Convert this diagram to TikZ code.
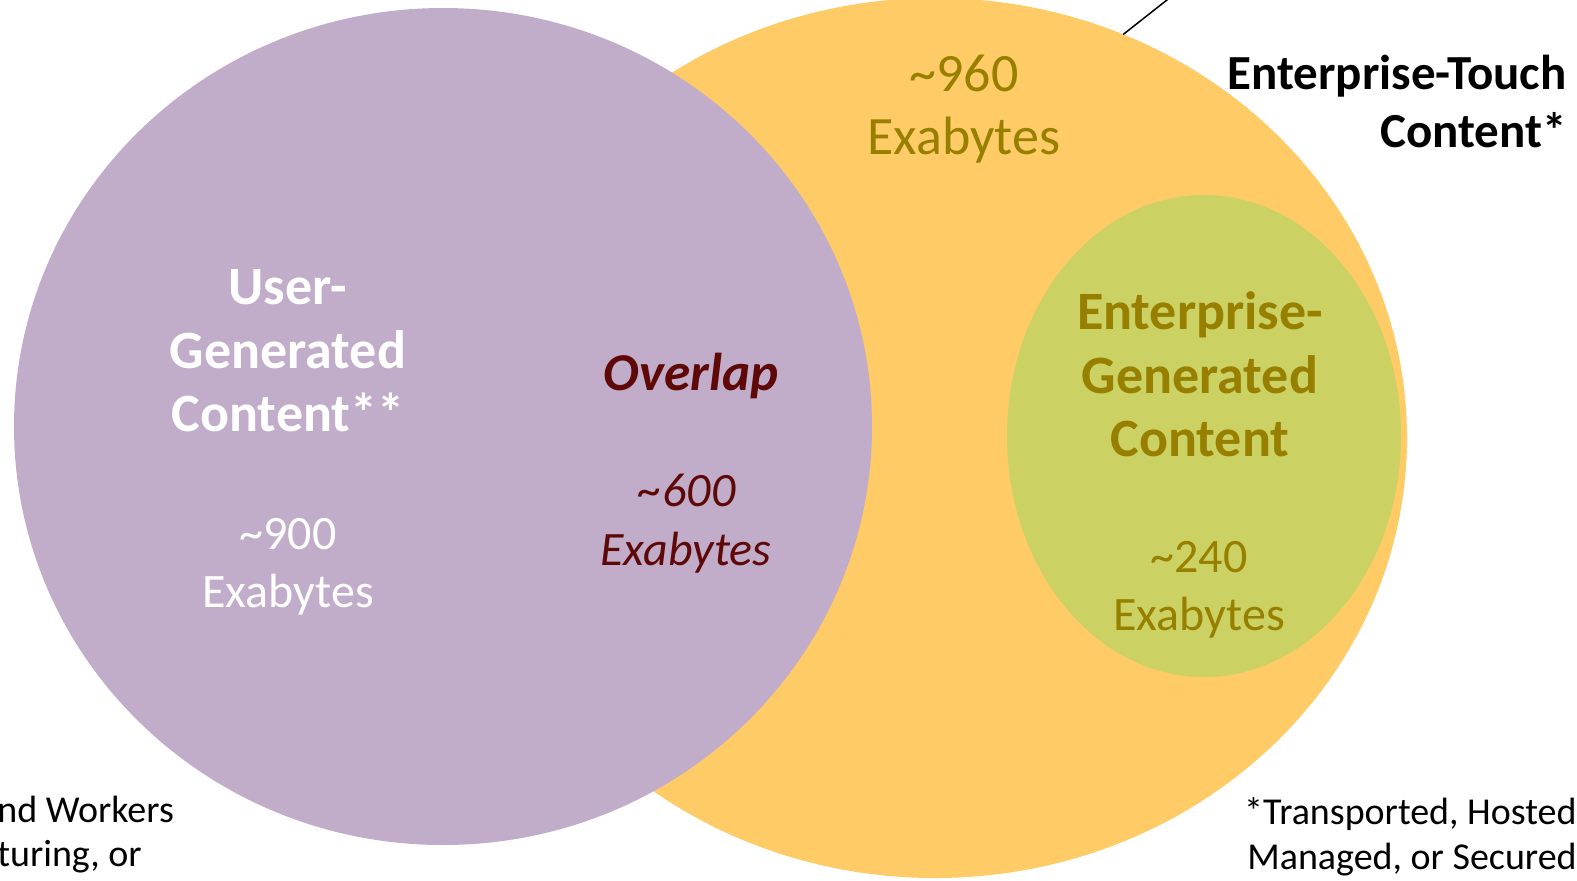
\documentclass[tikz,border=0pt]{standalone}
\usepackage{fontspec}
\setmainfont{Carlito}
\usetikzlibrary{shapes.geometric}

\definecolor{userpurple}{HTML}{C1ACC9}
\definecolor{touchorange}{HTML}{FECB66}
\definecolor{entgreen}{HTML}{CCD163}
\definecolor{olivetext}{HTML}{977F00}
\definecolor{overlaptext}{HTML}{5E0808}

\begin{document}
\begin{tikzpicture}[x=0.5pt,y=-0.5pt,
  blob/.style={ellipse, inner sep=0pt, outer sep=0pt},
  lbl/.style={anchor=base, inner sep=0pt, font=\fontsize{24}{29}\selectfont},
  lblbig/.style={lbl, font=\fontsize{27}{32}\selectfont},
  lblbold/.style={lbl, font=\fontsize{27}{32}\selectfont\bfseries},
  headline/.style={anchor=base east, inner sep=0pt, font=\fontsize{24.5}{29}\selectfont\bfseries},
  notetext/.style={inner sep=0pt, font=\fontsize{19}{23}\selectfont}]
\useasboundingbox (0,0) rectangle (1577,880);
\begin{scope}
\clip (0,0) rectangle (1577,880);

% the three sets
\node[blob, fill=touchorange, minimum width=472pt, minimum height=440pt] (touch) at (935,438) {};
\node[blob, fill=userpurple, minimum width=429pt, minimum height=418.5pt] (user) at (443,426.5) {};
\node[blob, fill=entgreen, minimum width=197pt, minimum height=241pt] (ent) at (1204,436) {};

% leader line from the enterprise-touch set
\coordinate (leadend) at (1172,-4);
\draw[line width=0.75pt] (touch.65) -- (leadend);

% enterprise-touch only
\node[lblbig, text=olivetext] (t960) at (964,91) {\textasciitilde960};
\node[lblbig, text=olivetext] (t960eb) at (964,154) {Exabytes};

% user-generated
\node[lblbold, text=white] (u1) at (288,304) {User-};
\node[lblbold, text=white] (u2) at (288,368) {Generated};
\node[lblbold, text=white] (u3) at (288,431) {Content**};
\node[lbl, text=white] (u900) at (288,549) {\textasciitilde900};
\node[lbl, text=white] (u900eb) at (288,607) {Exabytes};

% overlap
\node[lbl, text=overlaptext, font=\fontsize{26.6}{31}\selectfont\bfseries\itshape] (ov) at (691,390) {Overlap};
\node[lbl, text=overlaptext, font=\fontsize{24}{29}\selectfont\itshape] (ov600) at (687,506) {\textasciitilde600};
\node[lbl, text=overlaptext, font=\fontsize{24}{29}\selectfont\itshape] (ov600eb) at (686,565) {Exabytes};

% enterprise-generated
\node[lblbold, text=olivetext] (e1) at (1200,329) {Enterprise-};
\node[lblbold, text=olivetext] (e2) at (1200,393) {Generated};
\node[lblbold, text=olivetext] (e3) at (1200,456) {Content};
\node[lbl, text=olivetext] (e240) at (1199,572) {\textasciitilde240};
\node[lbl, text=olivetext] (e240eb) at (1199,630) {Exabytes};

% heading of the enterprise-touch set
\node[headline] (h1) at (1567,89) {Enterprise-Touch};
\node[headline] (h2) at (1567,147) {Content*};

% footnotes
\node[notetext, anchor=base west] (fl1) at (-3,822) {nd Workers};
\node[notetext, anchor=base west] (fl2) at (-3,866) {turing, or};
\node[notetext, anchor=base east] (fr1) at (1577,824) {*Transported, Hosted};
\node[notetext, anchor=base east] (fr2) at (1577,869) {Managed, or Secured};
\end{scope}
\end{tikzpicture}
\end{document}
